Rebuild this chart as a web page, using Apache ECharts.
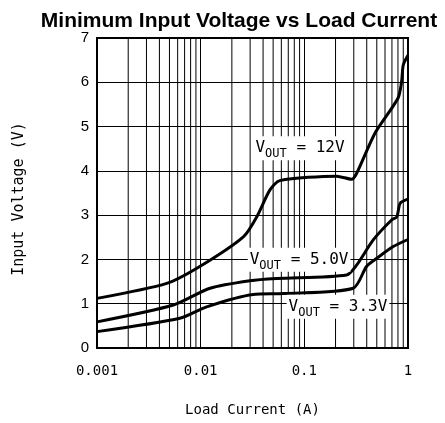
<!DOCTYPE html>
<html>
<head>
<meta charset="utf-8">
<script src="https://cdn.jsdelivr.net/npm/echarts@6/dist/echarts.min.js"></script>
<style>
  html, body { margin: 0; padding: 0; background: #fff; }
  #chart { width: 445px; height: 423px; }
</style>
</head>
<body>
<div id="chart"></div>
<script>
// load current (A) / input voltage (V)
const v12 = [
  [0.001, 1.12], [0.0047, 1.46], [0.0098, 1.84], [0.0258, 2.51], [0.0347, 2.96],
  [0.0466, 3.57], [0.058, 3.78], [0.205, 3.88], [0.286, 3.81], [0.319, 3.94],
  [0.48, 4.85], [0.80, 5.64], [0.867, 6.01], [0.90, 6.39], [1, 6.61]
];
const v50 = [
  [0.001, 0.59], [0.00545, 0.97], [0.0123, 1.35], [0.0299, 1.52], [0.054, 1.57],
  [0.256, 1.65], [0.319, 1.87], [0.462, 2.44], [0.695, 2.89], [0.78, 2.96],
  [0.84, 3.27], [1, 3.36]
];
const v33 = [
  [0.001, 0.37], [0.0063, 0.67], [0.0114, 0.93], [0.032, 1.21], [0.063, 1.23],
  [0.296, 1.35], [0.398, 1.84], [0.497, 2.02], [0.72, 2.29], [1, 2.45]
];
const curveLabels = [
  { coord: [0.0908, 4.51], text: "12V" },
  { coord: [0.089, 1.99], text: "5.0V" },
  { coord: [0.211, 0.93], text: "3.3V" }
];
const xTicks = { "-3": "0.001", "-2": "0.01", "-1": "0.1", "0": "1" };
const decades = [0.001, 0.01, 0.1];
const minorX = [];
decades.forEach(d => {
  for (let k = 2; k <= 9; k++) minorX.push(+(d * k).toPrecision(3));
});

const mono = "DejaVu Sans Mono";
const chart = echarts.init(document.getElementById("chart"));

const lineSeries = (data) => ({
  type: "line",
  data: data,
  smooth: 0.25,
  symbol: "none",
  lineStyle: { color: "#000", width: 3 },
  z: 5
});

// minor log grid lines, each a vertical line from y=0 to y=7
const minorSeries = minorX.map(x => ({
  type: "line",
  data: [[x, 0], [x, 7]],
  symbol: "none",
  silent: true,
  lineStyle: { color: "#000", width: 1 },
  z: 1
}));

chart.setOption({
  animation: false,
  title: {
    text: "Minimum Input Voltage vs Load Current",
    left: 234,
    textAlign: "center",
    top: 6,
    textStyle: { fontFamily: "Liberation Sans", fontWeight: "bold", fontSize: 21, color: "#000" }
  },
  grid: {
    left: 97, right: 37, top: 38, bottom: 75,
    show: true, borderColor: "#000", borderWidth: 2, z: 10
  },
  xAxis: {
    type: "log",
    logBase: 10,
    min: 0.001,
    max: 1,
    name: "Load Current (A)",
    nameLocation: "middle",
    nameGap: 55,
    nameTextStyle: { fontFamily: mono, fontSize: 14, color: "#000" },
    axisLine: { show: false },
    axisTick: { show: false },
    axisLabel: {
      margin: 16,
      fontFamily: mono, fontSize: 14, color: "#000",
      formatter: v => xTicks[String(Math.round(Math.log10(v)))] || ""
    },
    splitLine: { show: true, lineStyle: { color: "#000", width: 1 } }
  },
  yAxis: {
    type: "value",
    min: 0,
    max: 7,
    interval: 1,
    name: "Input Voltage (V)",
    nameLocation: "middle",
    nameGap: 70,
    nameTextStyle: { fontFamily: mono, fontSize: 15, color: "#000", padding: [0, 12, 0, 0] },
    axisLine: { show: false },
    axisTick: { show: false },
    axisLabel: { margin: 8, fontFamily: "Liberation Sans", fontSize: 15, color: "#000" },
    splitLine: { show: true, lineStyle: { color: "#000", width: 1 } }
  },
  series: minorSeries.concat([
    lineSeries(v12),
    lineSeries(v50),
    Object.assign(lineSeries(v33), {
      markPoint: {
        symbol: "rect",
        symbolSize: 1,
        itemStyle: { color: "transparent" },
        z: 20,
        label: {
          show: true,
          position: "inside",
          backgroundColor: "#fff",
          padding: [0, 2, 0, 2],
          formatter: p => "{v|V}{s|OUT}{n| = " + p.name + "}",
          rich: {
            v: { fontFamily: mono, fontSize: 16, color: "#000", lineHeight: 24, verticalAlign: "middle" },
            s: { fontFamily: mono, fontSize: 12, color: "#000", lineHeight: 12, verticalAlign: "bottom" },
            n: { fontFamily: mono, fontSize: 16, color: "#000", lineHeight: 24, verticalAlign: "middle" }
          }
        },
        data: curveLabels.map(l => ({ name: l.text, coord: l.coord }))
      }
    })
  ])
});
</script>
</body>
</html>
